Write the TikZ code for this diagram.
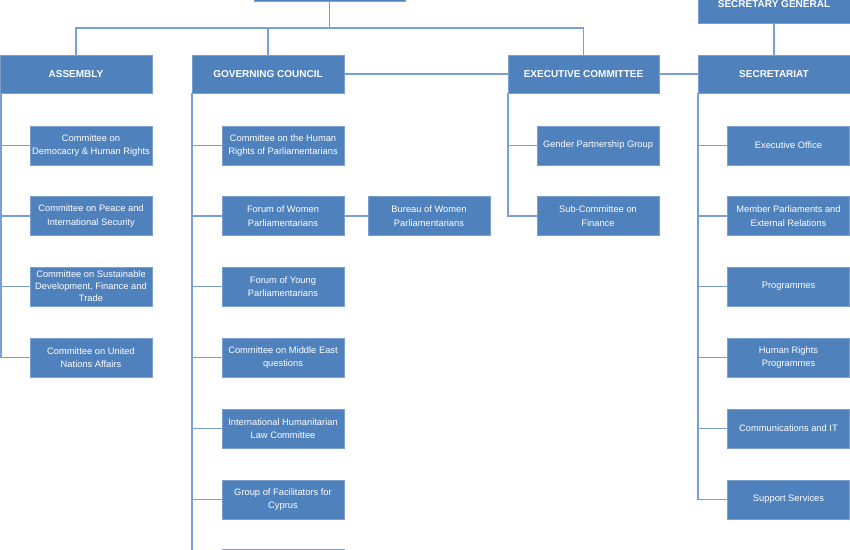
\documentclass[tikz,border=0pt]{standalone}
\usepackage{fontspec}
\setmainfont{Liberation Sans}
\definecolor{boxblue}{HTML}{4F81BD}
\definecolor{linkblue}{HTML}{7A9FD6}
\begin{document}
\begin{tikzpicture}[x=0.75pt,y=-0.75pt,
  box/.style={fill=boxblue,draw=boxblue!75!white,line width=0.5pt,text=white,align=center,inner sep=0pt,
    minimum width=91.5pt,minimum height=29pt,font=\fontsize{7}{10.2}\selectfont},
  head/.style={box,minimum width=114pt,minimum height=28.5pt,font=\bfseries\fontsize{7.5}{9}\selectfont},
  link/.style={draw=linkblue,line width=1.4pt}]
\useasboundingbox (0,0) rectangle (850,550);
\clip (0,0) rectangle (850,550);
% top level
\node[head,minimum width=113pt] (top) at (329.5,-18) {};
\node[head] (sg) at (774,4) {SECRETARY GENERAL};
\node[head] (asm) at (76,74) {ASSEMBLY};
\node[head] (gc) at (268,74) {GOVERNING COUNCIL};
\node[head,minimum width=113pt] (ec) at (583.5,74) {EXECUTIVE COMMITTEE};
\node[head] (sec) at (774,74) {SECRETARIAT};
% assembly children
\node[box] (a1) at (91,145.5) {Committee on\\Democacry \& Human Rights};
\node[box] (a2) at (91,216) {Committee on Peace and\\International Security};
\node[box,font=\fontsize{7}{9}\selectfont] (a3) at (91,286.5) {Committee on Sustainable\\Development, Finance and\\Trade};
\node[box] (a4) at (91,357.5) {Committee on United\\Nations Affairs};
% governing council children
\node[box] (g1) at (283,145.5) {Committee on the Human\\Rights of Parliamentarians};
\node[box] (g2) at (283,216) {Forum of Women\\Parliamentarians};
\node[box] (g3) at (283,286.5) {Forum of Young\\Parliamentarians};
\node[box] (g4) at (283,357.5) {Committee on Middle East\\questions};
\node[box] (g5) at (283,428.5) {International Humanitarian\\Law Committee};
\node[box] (g6) at (283,499.5) {Group of Facilitators for\\Cyprus};
\node[box] (g7) at (283,569) {};
\node[box] (bw) at (429,216) {Bureau of Women\\Parliamentarians};
% executive committee children
\node[box] (e1) at (598,145.5) {Gender Partnership Group};
\node[box] (e2) at (598,216) {Sub-Committee on\\Finance};
% secretariat children
\node[box] (s1) at (788.5,145.5) {Executive Office};
\node[box] (s2) at (788.5,216) {Member Parliaments and\\External Relations};
\node[box] (s3) at (788.5,286.5) {Programmes};
\node[box] (s4) at (788.5,357.5) {Human Rights\\Programmes};
\node[box] (s5) at (788.5,428.5) {Communications and IT};
\node[box] (s6) at (788.5,499.5) {Support Services};
% connectors
\coordinate (bus) at (329.5,28);
\draw[link] (top.south) -- (bus);
\draw[link] (asm.north) -- (asm.north |- bus) -- (ec.north |- bus) -- (ec.north);
\draw[link] (gc.north) -- (gc.north |- bus);
\draw[link] (sg.south) -- (sec.north);
\draw[link] (gc.east) -- (ec.west);
\draw[link] (ec.east) -- (sec.west);
\coordinate (asp) at ([xshift=0.9pt]asm.south west);
\draw[link] (asp) |- (a4.west);
\foreach \c in {a1,a2,a3} \draw[link] (asp |- \c.west) -- (\c.west);
\draw[link] (gc.south west) |- (g7.west);
\foreach \c in {g1,g2,g3,g4,g5,g6} \draw[link] (gc.south west |- \c.west) -- (\c.west);
\draw[link] (g2.east) -- (bw.west);
\draw[link] (ec.south west) |- (e2.west);
\draw[link] (ec.south west |- e1.west) -- (e1.west);
\draw[link] (sec.south west) |- (s6.west);
\foreach \c in {s1,s2,s3,s4,s5} \draw[link] (sec.south west |- \c.west) -- (\c.west);
\end{tikzpicture}
\end{document}
